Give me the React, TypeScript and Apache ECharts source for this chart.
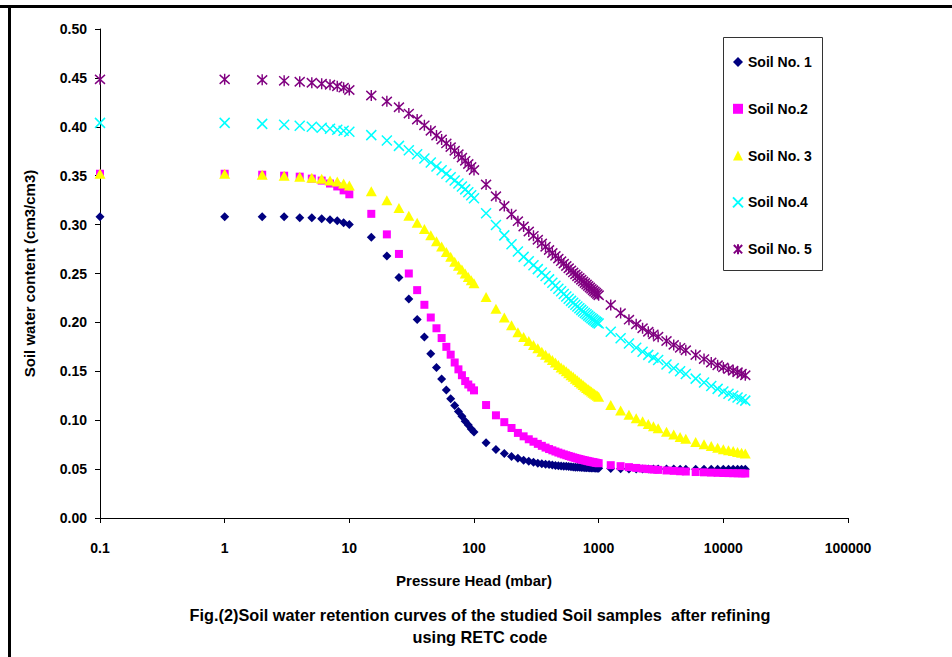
import React, { useEffect, useRef } from "react";
import * as echarts from "echarts";

// Pressure head (mbar)
const pressureHead = [
  0.1,
  1, 2, 3, 4, 5, 6, 7, 8, 9, 10,
  15, 20, 25, 30, 35, 40, 45, 50, 55, 60, 65, 70, 75, 80, 85, 90, 95, 100,
  125, 150, 175, 200, 225, 250, 275, 300, 325, 350, 375, 400, 425, 450, 475, 500,
  525, 550, 575, 600, 625, 650, 675, 700, 725, 750, 775, 800, 825, 850, 875, 900,
  925, 950, 975, 1000,
  1250, 1500, 1750, 2000, 2250, 2500, 2750, 3000,
  3500, 4000, 4500, 5000,
  6000, 7000, 8000, 9000, 10000, 11000, 12000, 13000, 14000, 15000,
];

const soil1 = [
  0.308,
  0.308, 0.308, 0.308, 0.307, 0.307, 0.306, 0.305, 0.304, 0.302, 0.300,
  0.287, 0.268, 0.246, 0.224, 0.203, 0.185, 0.168, 0.154, 0.142, 0.131, 0.122, 0.115, 0.109, 0.104, 0.099, 0.095, 0.091, 0.088,
  0.077, 0.070, 0.066, 0.063, 0.061, 0.059, 0.058, 0.057, 0.056, 0.0555, 0.055, 0.0546, 0.0542, 0.0538, 0.0535, 0.0532,
  0.053, 0.0528, 0.0526, 0.0524, 0.0522, 0.052, 0.0519, 0.0518, 0.0517, 0.0516, 0.0515, 0.0514, 0.0513, 0.0512, 0.0511, 0.051,
  0.051, 0.0509, 0.0509, 0.0508,
  0.0505, 0.0503, 0.0502, 0.0501, 0.0501, 0.05, 0.05, 0.05,
  0.05, 0.05, 0.0499, 0.0499,
  0.0499, 0.0499, 0.0499, 0.0499, 0.0499, 0.0499, 0.0499, 0.0499, 0.0499, 0.0499,
];

const soil2 = [
  0.352,
  0.352, 0.351, 0.350, 0.349, 0.347, 0.345, 0.342, 0.339, 0.335, 0.331,
  0.311, 0.290, 0.270, 0.250, 0.233, 0.218, 0.205, 0.194, 0.184, 0.175, 0.167, 0.159, 0.152, 0.146, 0.140, 0.1365, 0.1335, 0.1305,
  0.1155, 0.105, 0.098, 0.092, 0.087, 0.0835, 0.0805, 0.078, 0.0758, 0.0738, 0.072, 0.0705, 0.0692, 0.068, 0.0669, 0.0659,
  0.065, 0.0642, 0.0634, 0.0627, 0.062, 0.0614, 0.0608, 0.0603, 0.0598, 0.0593, 0.0589, 0.0585, 0.0581, 0.0577, 0.0574, 0.0571,
  0.0568, 0.0565, 0.0562, 0.056,
  0.054, 0.053, 0.052, 0.0512, 0.0505, 0.05, 0.0495, 0.0492,
  0.0486, 0.0482, 0.0478, 0.0475,
  0.047, 0.0467, 0.0464, 0.0462, 0.046, 0.0459, 0.0458, 0.0457, 0.0456, 0.0455,
];

const soil3 = [
  0.352,
  0.352, 0.351, 0.350, 0.349, 0.348, 0.347, 0.345, 0.344, 0.342, 0.340,
  0.334, 0.325, 0.317, 0.309, 0.302, 0.2955, 0.289, 0.283, 0.2775, 0.272, 0.267, 0.262, 0.258, 0.254, 0.250, 0.2465, 0.243, 0.240,
  0.226, 0.214, 0.205, 0.197, 0.190, 0.185, 0.181, 0.177, 0.1735, 0.170, 0.167, 0.164, 0.1615, 0.159, 0.1565, 0.154,
  0.152, 0.150, 0.148, 0.146, 0.1443, 0.1425, 0.1408, 0.139, 0.1375, 0.136, 0.1345, 0.133, 0.1317, 0.1305, 0.1293, 0.128,
  0.127, 0.126, 0.125, 0.124,
  0.1155, 0.110, 0.1055, 0.102, 0.0988, 0.096, 0.0938, 0.0918,
  0.0882, 0.0853, 0.0828, 0.081,
  0.0778, 0.0755, 0.0735, 0.0718, 0.0704, 0.0694, 0.0685, 0.0676, 0.0668, 0.066,
];

const soil4 = [
  0.404,
  0.404, 0.403, 0.402, 0.401, 0.400, 0.399, 0.398, 0.397, 0.396, 0.395,
  0.3915, 0.386, 0.3805, 0.376, 0.372, 0.3675, 0.3635, 0.3595, 0.3555, 0.352, 0.3485, 0.345, 0.342, 0.339, 0.336, 0.333, 0.330, 0.327,
  0.3116, 0.2996, 0.289, 0.280, 0.2725, 0.267, 0.2625, 0.2585, 0.2545, 0.251, 0.2475, 0.244, 0.2405, 0.2375, 0.2345, 0.2318,
  0.229, 0.2265, 0.2242, 0.222, 0.22, 0.218, 0.2162, 0.2145, 0.2128, 0.2112, 0.2097, 0.2083, 0.2069, 0.2056, 0.2043, 0.2031,
  0.2019, 0.2008, 0.1998, 0.1988,
  0.1905, 0.1838, 0.1785, 0.174, 0.170, 0.1668, 0.164, 0.1615,
  0.157, 0.1532, 0.150, 0.1473,
  0.1425, 0.1385, 0.135, 0.132, 0.1294, 0.127, 0.125, 0.1232, 0.1215, 0.120,
];

const soil5 = [
  0.4485,
  0.4485, 0.448, 0.447, 0.446, 0.445, 0.444, 0.443, 0.4415, 0.440, 0.4376,
  0.432, 0.426, 0.420, 0.4135, 0.4075, 0.4015, 0.396, 0.391, 0.387, 0.383, 0.3792, 0.3755, 0.372, 0.3685, 0.3652, 0.362, 0.359, 0.3558,
  0.341, 0.329, 0.319, 0.3105, 0.3035, 0.298, 0.293, 0.2885, 0.2845, 0.2808, 0.2773, 0.274, 0.271, 0.268, 0.2652, 0.2626,
  0.2601, 0.2577, 0.2554, 0.2532, 0.2511, 0.2491, 0.2472, 0.2454, 0.2436, 0.2419, 0.2403, 0.2387, 0.2372, 0.2357, 0.2343, 0.2329,
  0.2316, 0.2303, 0.229, 0.2278,
  0.2178, 0.2095, 0.2028, 0.198, 0.194, 0.1905, 0.1878, 0.1854,
  0.181, 0.177, 0.174, 0.1715,
  0.1667, 0.1625, 0.159, 0.1562, 0.154, 0.1522, 0.1505, 0.149, 0.1475, 0.146,
];

const seriesNames = ["Soil No. 1", "Soil No.2", "Soil No. 3", "Soil No.4", "Soil No. 5"];
const seriesValues = [soil1, soil2, soil3, soil4, soil5];
const seriesColors = ["#000080", "#FF00FF", "#FFFF00", "#00FFFF", "#800080"];
const xTickLabels = ["0.1", "1", "10", "100", "1000", "10000", "100000"];

const xAxisTitle = "Pressure Head (mbar)";
const yAxisTitle = "Soil water content (cm3/cm3)";
const captionLines = [
  "Fig.(2)Soil water retention curves of the studied Soil samples  after refining",
  "using RETC code",
];

const FONT = "'Liberation Sans', Arial, sans-serif";

const symbols = [
  "diamond",
  "rect",
  "triangle",
  "path://M0,0L10,10M10,0L0,10",
  "path://M0,1L10,11M10,1L0,11M5,0L5,12",
];
const symbolSizes: any[] = [9, 8, [11, 10], 10, [10, 11]];

export default function App() {
  const ref = useRef<HTMLDivElement>(null);

  useEffect(() => {
    if (!ref.current) return;
    const chart = echarts.init(ref.current, undefined, { renderer: "svg" });

    const series = seriesNames.map((name, i) => {
      const isStroke = i >= 3;
      return {
        name,
        type: "scatter",
        data: pressureHead.map((x, k) => [x, seriesValues[i][k]]),
        symbol: symbols[i],
        symbolSize: symbolSizes[i],
        itemStyle: isStroke
          ? { color: seriesColors[i], borderColor: seriesColors[i], borderWidth: 1.5, opacity: 1 }
          : { color: seriesColors[i], opacity: 1 },
        emphasis: { disabled: true },
        z: 2 + i,
      };
    });

    chart.setOption({
      animation: false,
      backgroundColor: "#ffffff",
      textStyle: { fontFamily: FONT },
      grid: { left: 100, right: 104, top: 29, bottom: 139, containLabel: false },
      xAxis: {
        type: "log",
        logBase: 10,
        min: 0.1,
        max: 100000,
        name: xAxisTitle,
        nameLocation: "middle",
        nameGap: 55,
        nameTextStyle: { fontFamily: FONT, fontWeight: "bold", fontSize: 15, color: "#000" },
        axisLine: { lineStyle: { color: "#000", width: 1 } },
        axisTick: { show: true, inside: false, length: 5, lineStyle: { color: "#000" } },
        minorTick: { show: false },
        splitLine: { show: false },
        axisLabel: {
          margin: 23,
          fontFamily: FONT,
          fontWeight: "bold",
          fontSize: 14,
          color: "#000",
          formatter: (v: number) => xTickLabels[Math.round(Math.log10(v)) + 1] ?? String(v),
        },
      },
      yAxis: {
        type: "value",
        min: 0,
        max: 0.5,
        interval: 0.05,
        name: yAxisTitle,
        nameLocation: "middle",
        nameGap: 63,
        nameRotate: 90,
        nameTextStyle: { fontFamily: FONT, fontWeight: "bold", fontSize: 15, color: "#000" },
        axisLine: { show: true, lineStyle: { color: "#000", width: 1 } },
        axisTick: { show: true, inside: false, length: 5, lineStyle: { color: "#000" } },
        splitLine: { show: false },
        axisLabel: {
          margin: 13,
          fontFamily: FONT,
          fontWeight: "bold",
          fontSize: 14,
          color: "#000",
          formatter: (v: number) => v.toFixed(2),
        },
      },
      legend: {
        orient: "vertical",
        left: 732,
        top: 55,
        padding: 0,
        itemWidth: 10,
        itemHeight: 10,
        itemGap: 32.8,
        selectedMode: false,
        textStyle: { fontFamily: FONT, fontWeight: "bold", fontSize: 14, color: "#000", lineHeight: 14 },
        data: seriesNames,
      },
      graphic: [
        { type: "rect", shape: { x: 0, y: 5, width: 952, height: 3 }, style: { fill: "#000" }, silent: true },
        { type: "rect", shape: { x: 8, y: 5, width: 3, height: 652 }, style: { fill: "#000" }, silent: true },
        {
          type: "rect",
          shape: { x: 723.5, y: 37.5, width: 99, height: 233 },
          style: { fill: "none", stroke: "#333", lineWidth: 1 },
          silent: true,
          z: -1,
        },
        {
          type: "text",
          x: 480,
          y: 615,
          style: {
            text: captionLines[0],
            font: `bold 16.3px ${FONT}`,
            fill: "#000",
            align: "center",
            verticalAlign: "middle",
          },
        },
        {
          type: "text",
          x: 480,
          y: 637,
          style: {
            text: captionLines[1],
            font: `bold 16.3px ${FONT}`,
            fill: "#000",
            align: "center",
            verticalAlign: "middle",
          },
        },
      ],
      series,
    });

    return () => chart.dispose();
  }, []);

  return (
    <div
      ref={ref}
      style={{ position: "absolute", left: 0, top: 0, width: 952, height: 657, background: "#fff" }}
    />
  );
}
